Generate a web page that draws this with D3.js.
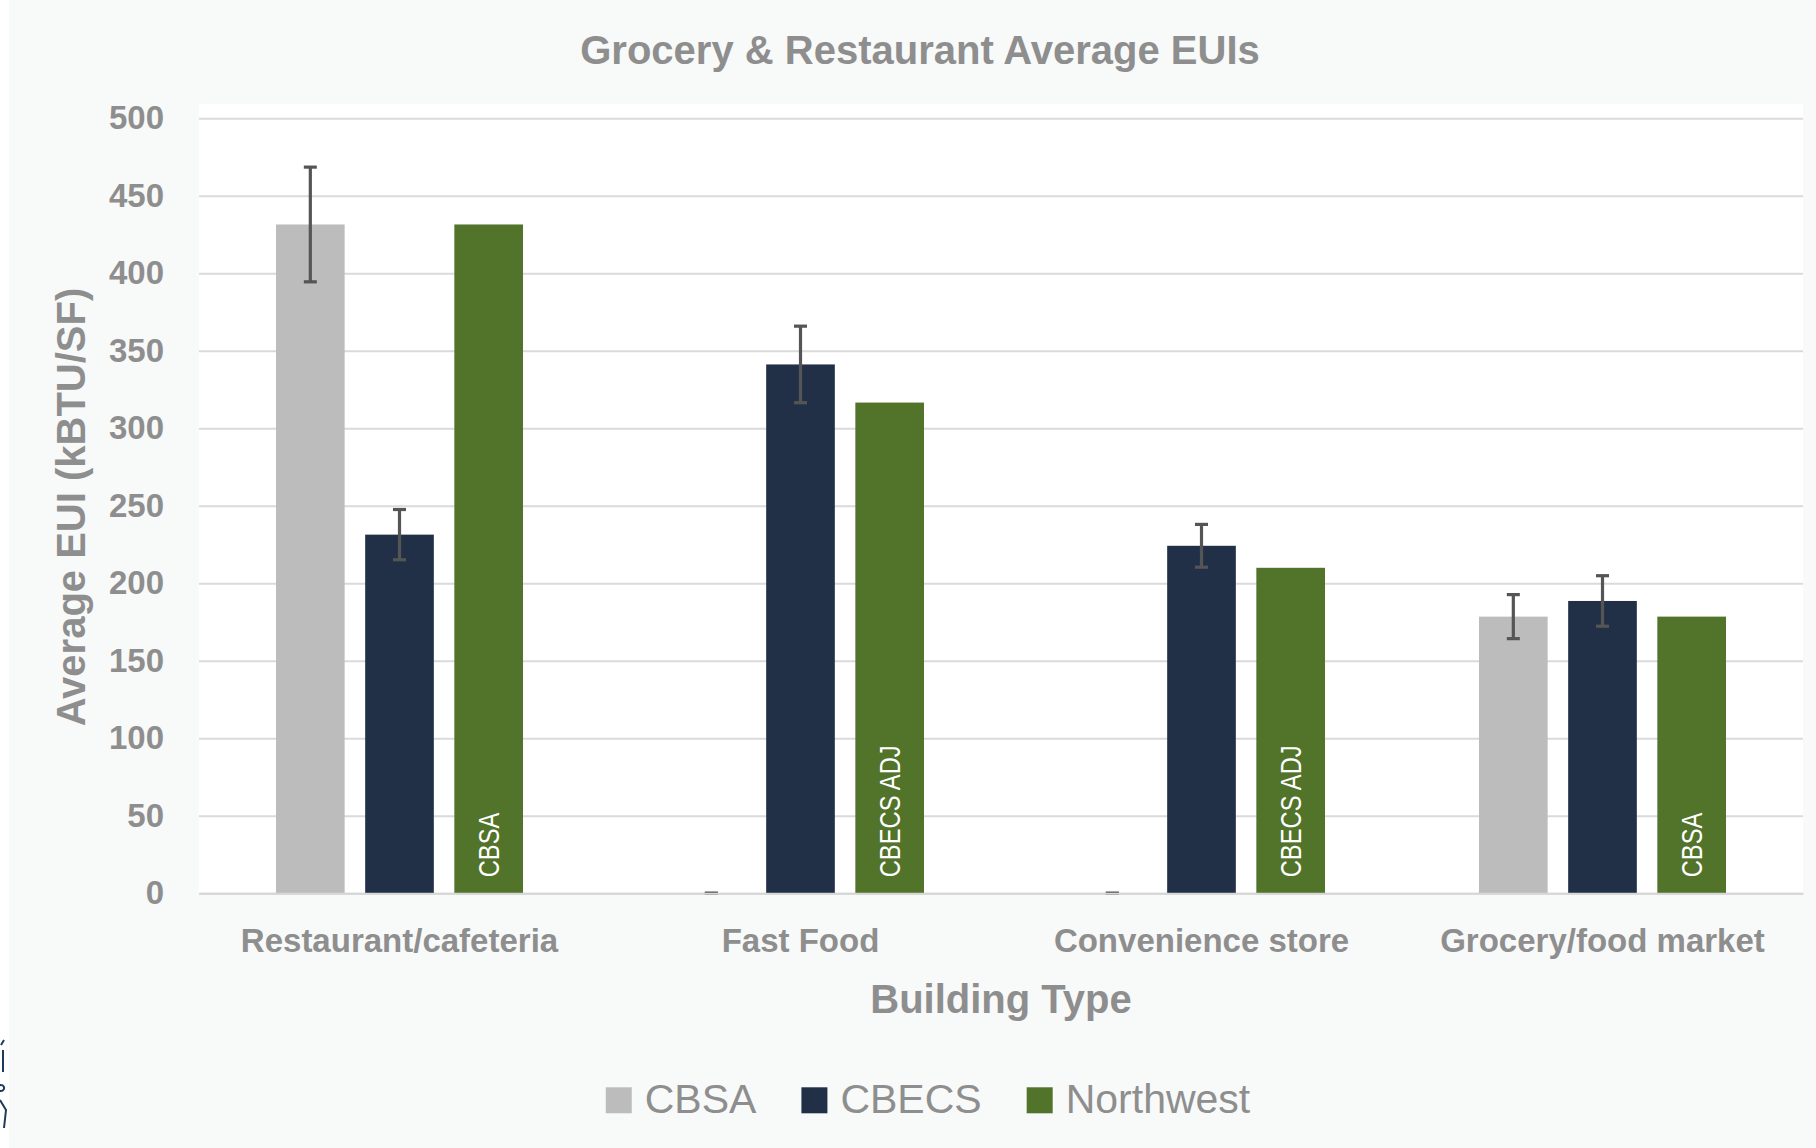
<!DOCTYPE html>
<html>
<head>
<meta charset="utf-8">
<script src="https://cdn.jsdelivr.net/npm/d3@7/dist/d3.min.js"></script>
<style>
body { margin: 0; background: #f8f9f9; }
svg { display: block; }
</style>
</head>
<body>
<svg width="1816" height="1148"></svg>
<script>
var categories = ['Restaurant/cafeteria', 'Fast Food', 'Convenience store', 'Grocery/food market'];
var seriesNames = ['CBSA', 'CBECS', 'Northwest'];
var cbsaValues = [431.5, 0, 0, 178.5];
var cbsaErrors = [37, 0, 0, 14.2];
var cbecsValues = [231.4, 341.2, 224.2, 188.6];
var cbecsErrors = [16.2, 24.7, 13.8, 16.3];
var northwestValues = [431.5, 316.6, 210, 178.5];
var northwestSource = ['CBSA', 'CBECS ADJ', 'CBECS ADJ', 'CBSA'];
var yTicks = [0, 50, 100, 150, 200, 250, 300, 350, 400, 450, 500];

var colors = {'CBSA': '#bcbcbc', 'CBECS': '#223047', 'Northwest': '#51732a'};
var textColor = '#8e8e8e';

var svg = d3.select('svg');
var plotLeft = 199, plotRight = 1803, plotTop = 118.3, plotBottom = 893.3;

svg.append('rect')
.attr('x', 0).attr('y', 0)
.attr('width', 9).attr('height', 1148)
.attr('fill', '#ffffff');

svg.append('rect')
.attr('x', plotLeft).attr('y', 104)
.attr('width', plotRight - plotLeft).attr('height', plotBottom - 104)
.attr('fill', '#ffffff');

// bits of a cut-off logo at the left edge
svg.append('path')
.attr('d', 'M1,1045 L4,1040 M3,1050 L3,1072 M1,1085 a3,3 0 1,0 0.1,0 M0,1100 L6,1110 L4,1128')
.attr('fill', 'none')
.attr('stroke', '#1f3a5a')
.attr('stroke-width', 2);

var x0 = d3.scaleBand()
.domain(categories)
.range([plotLeft, plotRight])
.padding(0);

var groupWidth = x0.bandwidth() * 0.616;
var x1 = d3.scaleBand()
.domain(seriesNames)
.range([0, groupWidth])
.paddingInner(0.23);

var y = d3.scaleLinear()
.domain([0, 500])
.range([plotBottom, plotTop]);

var yAxis = d3.axisLeft(y)
.tickValues(yTicks)
.tickSize(-(plotRight - plotLeft))
.tickPadding(35);

var gy = svg.append('g')
.attr('transform', 'translate(' + plotLeft + ',0)')
.call(yAxis);
gy.select('.domain').remove();
gy.selectAll('.tick line')
.attr('stroke', '#dadada')
.attr('stroke-width', 2);
gy.selectAll('.tick text')
.attr('fill', textColor)
.attr('font-family', '"Liberation Sans", Arial, sans-serif')
.attr('font-weight', 'bold')
.attr('font-size', '33px');

var rows = categories.map(function(c, i) {
	return {
		category: c,
		bars: [
			{series: 'CBSA', value: cbsaValues[i], err: cbsaErrors[i]},
			{series: 'CBECS', value: cbecsValues[i], err: cbecsErrors[i]},
			{series: 'Northwest', value: northwestValues[i], err: null, label: northwestSource[i]}
		]
	};
});

var groups = svg.selectAll('g.group')
.data(rows)
.enter()
.append('g')
.attr('class', 'group')
.attr('transform', function(d){
	return 'translate(' + (x0(d.category) + (x0.bandwidth() - groupWidth) / 2) + ',0)';
});

groups.selectAll('rect')
.data(function(d){ return d.bars; })
.enter()
.append('rect')
.attr('x', function(d){ return x1(d.series); })
.attr('y', function(d){ return y(d.value); })
.attr('width', x1.bandwidth())
.attr('height', function(d){ return y(0) - y(d.value); })
.attr('fill', function(d){ return colors[d.series]; });

var errs = groups.selectAll('g.err')
.data(function(d){ return d.bars.filter(function(b){ return b.err !== null; }); })
.enter()
.append('g')
.attr('class', 'err')
.attr('stroke', '#555555')
.attr('stroke-width', 3.2);

errs.append('line')
.attr('x1', function(d){ return x1(d.series) + x1.bandwidth() / 2; })
.attr('x2', function(d){ return x1(d.series) + x1.bandwidth() / 2; })
.attr('y1', function(d){ return y(d.value + d.err); })
.attr('y2', function(d){ return y(d.value - d.err); });

errs.selectAll('line.cap')
.data(function(d){ return [d.value + d.err, d.value - d.err].map(function(v){ return {series: d.series, v: v}; }); })
.enter()
.append('line')
.attr('class', 'cap')
.attr('x1', function(d){ return x1(d.series) + x1.bandwidth() / 2 - 6.5; })
.attr('x2', function(d){ return x1(d.series) + x1.bandwidth() / 2 + 6.5; })
.attr('y1', function(d){ return y(d.v); })
.attr('y2', function(d){ return y(d.v); });

groups.selectAll('text.src')
.data(function(d){ return d.bars.filter(function(b){ return b.label; }); })
.enter()
.append('text')
.attr('class', 'src')
.attr('transform', function(d){
	return 'translate(' + (x1(d.series) + x1.bandwidth() / 2) + ',' + (y(0) - 16) + ') rotate(-90) scale(0.82,1)';
})
.attr('dy', '0.36em')
.attr('fill', '#ffffff')
.attr('font-family', '"Liberation Sans", Arial, sans-serif')
.attr('font-size', '29px')
.text(function(d){ return d.label; });

var xAxis = d3.axisBottom(x0)
.tickSize(0)
.tickPadding(0);

var gx = svg.append('g')
.attr('transform', 'translate(0,' + plotBottom + ')')
.call(xAxis);
gx.select('.domain')
.attr('stroke', '#d6d6d6')
.attr('stroke-width', 2);
gx.selectAll('.tick text')
.attr('dy', null)
.attr('y', 58.4)
.attr('fill', textColor)
.attr('font-family', '"Liberation Sans", Arial, sans-serif')
.attr('font-weight', 'bold')
.attr('font-size', '33px');

svg.append('text')
.attr('x', 920)
.attr('y', 64.3)
.attr('text-anchor', 'middle')
.attr('fill', textColor)
.attr('font-family', '"Liberation Sans", Arial, sans-serif')
.attr('font-weight', 'bold')
.attr('font-size', '40px')
.text('Grocery & Restaurant Average EUIs');

svg.append('text')
.attr('x', (plotLeft + plotRight) / 2)
.attr('y', 1013)
.attr('text-anchor', 'middle')
.attr('fill', textColor)
.attr('font-family', '"Liberation Sans", Arial, sans-serif')
.attr('font-weight', 'bold')
.attr('font-size', '40px')
.text('Building Type');

svg.append('text')
.attr('transform', 'translate(85,507) rotate(-90)')
.attr('text-anchor', 'middle')
.attr('fill', textColor)
.attr('font-family', '"Liberation Sans", Arial, sans-serif')
.attr('font-weight', 'bold')
.attr('font-size', '40px')
.text('Average EUI (kBTU/SF)');

var legend = svg.append('g');
var lx = 0;
seriesNames.forEach(function(name) {
	var item = legend.append('g').attr('transform', 'translate(' + lx + ',0)');
	item.append('rect')
	.attr('x', 0).attr('y', -26)
	.attr('width', 26).attr('height', 26)
	.attr('fill', colors[name]);
	var t = item.append('text')
	.attr('x', 39)
	.attr('y', 0)
	.attr('fill', textColor)
	.attr('font-family', '"Liberation Sans", Arial, sans-serif')
	.attr('font-size', '41px')
	.text(name);
	lx += 39 + t.node().getComputedTextLength() + 45;
});
var legendWidth = lx - 45;
legend.attr('transform', 'translate(' + (928 - legendWidth / 2) + ',1113.3)');
</script>
</body>
</html>
